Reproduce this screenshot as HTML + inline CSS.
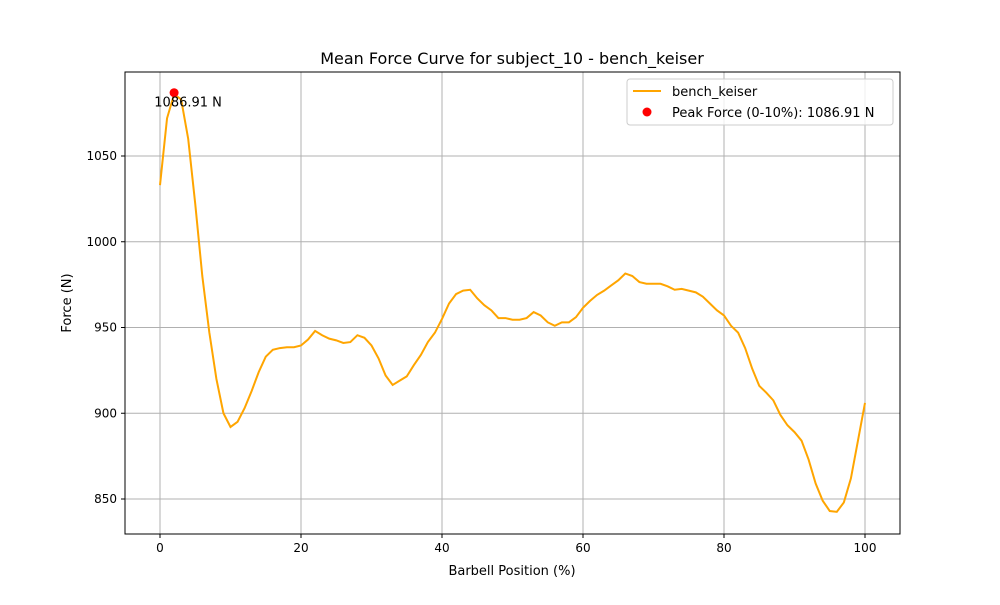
<!DOCTYPE html>
<html><head><meta charset="utf-8"><style>
body{margin:0;background:#fff;font-family:"Liberation Sans","DejaVu Sans",sans-serif;}
svg text{font-family:"DejaVu Sans","Liberation Sans",sans-serif;}
</style></head><body>
<svg id="chart" width="1000" height="600" xmlns="http://www.w3.org/2000/svg">
<rect width="1000" height="600" fill="#fff"/>
<text x="512" y="64" font-size="16" text-anchor="middle">Mean Force Curve for subject_10 - bench_keiser</text>
<g id="grid"></g>
<g id="plot"></g>
<rect x="125" y="72" width="775" height="462" fill="none" stroke="#000" stroke-width="1"/>
<g id="ticks"></g>
<text x="512" y="575" font-size="13" text-anchor="middle">Barbell Position (%)</text>
<text transform="translate(71,303) rotate(-90)" font-size="13" text-anchor="middle">Force (N)</text>
<g>
<rect x="627" y="79" width="266" height="46" rx="3" fill="#fff" fill-opacity="0.8" stroke="#ccc"/>
<line x1="633" y1="91" x2="661" y2="91" stroke="orange" stroke-width="2"/>
<text x="672" y="96" font-size="13">bench_keiser</text>
<circle cx="647" cy="112" r="4.5" fill="red"/>
<text x="672" y="117" font-size="13">Peak Force (0-10%): 1086.91 N</text>
</g>
</svg>
<script>
const positions=[0,1,2,3,4,5,6,7,8,9,10,11,12,13,14,15,16,17,18,19,20,21,22,23,24,25,26,27,28,29,30,31,32,33,34,35,36,37,38,39,40,41,42,43,44,45,46,47,48,49,50,51,52,53,54,55,56,57,58,59,60,61,62,63,64,65,66,67,68,69,70,71,72,73,74,75,76,77,78,79,80,81,82,83,84,85,86,87,88,89,90,91,92,93,94,95,96,97,98,99,100];
const forces=[1033,1072,1086,1083,1060,1022,980,947,920,900,892,895,903,913,924,933,937,938,938.5,938.5,939.5,943,948,945.5,943.5,942.5,941,941.5,945.5,944,939.5,932,922,916.5,919,921.5,928,934,941.5,947,955,964,969.5,971.5,972,967,963,960,955.5,955.5,954.5,954.5,955.5,959,957,953,951,953,953,956,961.5,965.5,969,971.5,974.5,977.5,981.5,980,976.5,975.5,975.5,975.5,974,972,972.5,971.5,970.5,968,964,960,957,951,947,938,926,916,912,907.5,899,893,889,884,873,859,849,843,842.5,848,862,884,906];
const peakX=[2];
const peakY=[1086.91];
const xTicks=[0,20,40,60,80,100];
const yTicks=[850,900,950,1000,1050];
const NS="http://www.w3.org/2000/svg";
const xs=v=>160+v*7.05;
const ys=v=>156+(1050-v)*1.715;
const grid=document.getElementById('grid'),ticks=document.getElementById('ticks'),plot=document.getElementById('plot');
function mk(tag,attrs,parent){const e=document.createElementNS(NS,tag);for(const k in attrs)e.setAttribute(k,attrs[k]);parent.appendChild(e);return e;}
xTicks.forEach(t=>{
 const g=mk('line',{x1:xs(t),x2:xs(t),y1:72,y2:534,stroke:'#b0b0b0','stroke-width':1},grid);
 
 
 mk('line',{x1:xs(t),x2:xs(t),y1:534,y2:538,stroke:'#000'},ticks);
 const tx=mk('text',{x:xs(t),y:552,'font-size':12,'text-anchor':'middle'},ticks);
 tx.textContent=t;
 
 
});
yTicks.forEach(t=>{
 const g=mk('line',{x1:125,x2:900,y1:ys(t),y2:ys(t),stroke:'#b0b0b0','stroke-width':1},grid);
 
 
 mk('line',{x1:121,x2:125,y1:ys(t),y2:ys(t),stroke:'#000'},ticks);
 const tx=mk('text',{x:117,y:ys(t)+4,'font-size':12,'text-anchor':'end'},ticks);
 tx.textContent=t;
 
 
});
const line=mk('polyline',{points:positions.map((p,i)=>xs(p)+','+ys(forces[i])).join(' '),fill:'none',stroke:'orange','stroke-width':2},plot);


peakX.forEach((p,i)=>{
 const c=mk('circle',{cx:xs(p),cy:ys(peakY[i]),r:4.5,fill:'red'},plot);
 
 
 const t=mk('text',{x:xs(p)+14,y:ys(peakY[i])+14,'font-size':13,'text-anchor':'middle'},plot);
 t.textContent=peakY[i].toFixed(2)+' N';
 
 
});
</script>
</body></html>
